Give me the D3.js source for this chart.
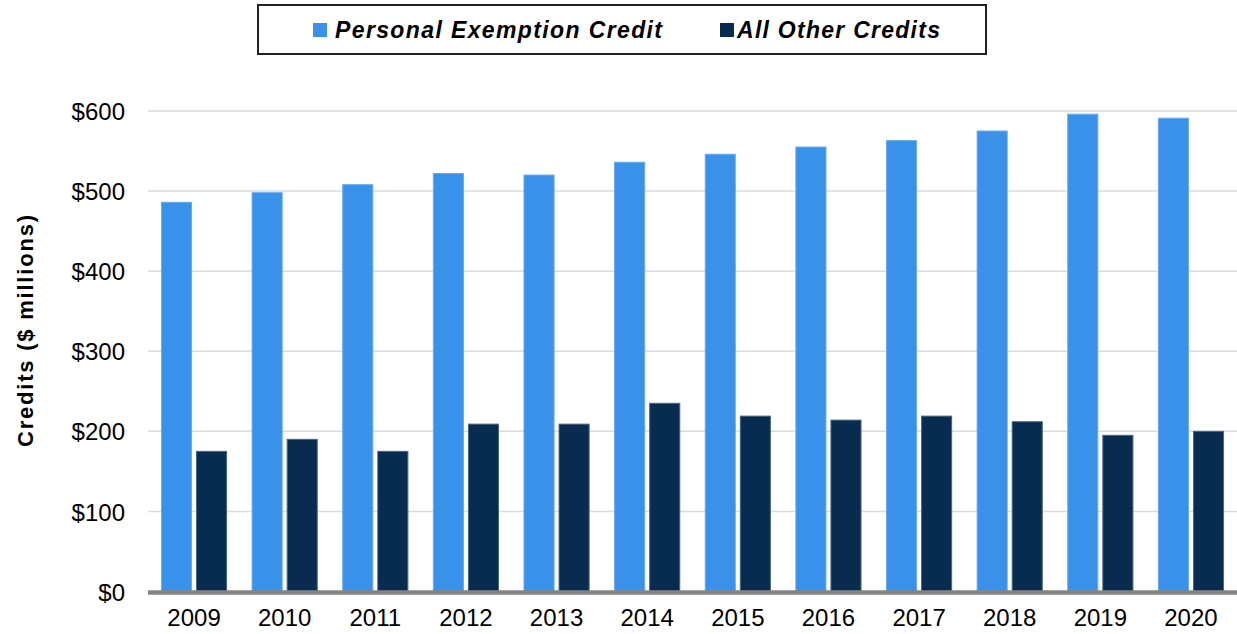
<!DOCTYPE html>
<html>
<head>
<meta charset="utf-8">
<script src="https://cdn.jsdelivr.net/npm/d3@7"></script>
<style>
    html, body { margin: 0; padding: 0; background: #fff; }
    svg { display: block; font-family: "Liberation Sans", Arial, sans-serif; }
</style>
</head>
<body>
<div id="chart"></div>
<script>
// Chart data
const years = ['2009', '2010', '2011', '2012', '2013', '2014', '2015', '2016', '2017', '2018', '2019', '2020'];
const personalExemption = [486, 498, 508, 522, 520, 536, 546, 555, 563, 575, 596, 591];
const allOther = [175, 190, 175, 209, 209, 235, 219, 214, 219, 212, 195, 200];
const seriesNames = ['Personal Exemption Credit', 'All Other Credits'];
const yTicks = [0, 100, 200, 300, 400, 500, 600];

const width = 1237, height = 634;
const margin = { left: 148, right: 0, top: 111, bottom: 42 };
const colors = ['#3991ea', '#082c50'];
const strokes = ['#68abef', '#4a6580'];

const svg = d3.select('#chart')
    .append('svg')
    .attr('width', width)
    .attr('height', height);

// Scales
const x0 = d3.scaleBand()
    .domain(years)
    .range([margin.left, width - margin.right])
    .paddingInner(0.27)
    .paddingOuter(0.143);

const x1 = d3.scaleBand()
    .domain(seriesNames)
    .range([0, x0.bandwidth()])
    .paddingInner(0.114);

const y = d3.scaleLinear()
    .domain([0, 600])
    .range([591.5, margin.top]);

// Gridlines
svg.append('g')
    .selectAll('line')
    .data(yTicks.filter(d => d > 0))
    .enter()
    .append('line')
    .attr('x1', margin.left)
    .attr('x2', width)
    .attr('y1', d => y(d))
    .attr('y2', d => y(d))
    .attr('stroke', '#dcdcdc')
    .attr('stroke-width', 1.5);

// Y axis labels
const yAxis = d3.axisLeft(y)
    .tickValues(yTicks)
    .tickFormat(d => `$${d}`)
    .tickSize(0)
    .tickPadding(0);

svg.append('g')
    .attr('transform', 'translate(125,0)')
    .call(yAxis)
    .call(g => g.select('.domain').remove())
    .selectAll('text')
    .attr('font-size', 24)
    .attr('font-family', '"Liberation Sans", Arial, sans-serif')
    .attr('fill', '#000')
    .attr('dy', '0.36em');

// Bars
const data = years.map((yr, i) => ({
    year: yr,
    values: [personalExemption[i], allOther[i]]
}));

const groups = svg.append('g')
    .selectAll('g')
    .data(data)
    .enter()
    .append('g')
    .attr('transform', d => `translate(${x0(d.year)},0)`);

groups.selectAll('rect')
    .data(d => d.values.map((v, i) => ({ key: seriesNames[i], value: v, i })))
    .enter()
    .append('rect')
    .attr('x', d => x1(d.key) + 0.5)
    .attr('y', d => y(d.value))
    .attr('width', x1.bandwidth() - 1)
    .attr('height', d => y(0) - y(d.value))
    .attr('fill', d => colors[d.i])
    .attr('stroke', d => strokes[d.i])
    .attr('stroke-width', 1);

// Zero axis line
svg.append('line')
    .attr('x1', margin.left)
    .attr('x2', width)
    .attr('y1', y(0) + 1)
    .attr('y2', y(0) + 1)
    .attr('stroke', '#858585')
    .attr('stroke-width', 4.5);

// X axis labels
const xAxis = d3.axisBottom(x0)
    .tickSize(0)
    .tickPadding(0);

svg.append('g')
    .attr('transform', 'translate(0,609)')
    .call(xAxis)
    .call(g => g.select('.domain').remove())
    .selectAll('text')
    .attr('font-size', 24)
    .attr('font-family', '"Liberation Sans", Arial, sans-serif')
    .attr('fill', '#000')
    .attr('dy', '0.71em');

// Y axis title
svg.append('text')
    .attr('transform', 'translate(33,331) rotate(-90)')
    .attr('text-anchor', 'middle')
    .attr('font-size', 22)
    .attr('font-weight', 'bold')
    .attr('textLength', 232)
    .attr('lengthAdjust', 'spacing')
    .text('Credits ($ millions)');

// Legend
const legend = svg.append('g');

legend.append('rect')
    .attr('x', 258)
    .attr('y', 5)
    .attr('width', 728)
    .attr('height', 49)
    .attr('fill', '#fff')
    .attr('stroke', '#222')
    .attr('stroke-width', 2);

const legendItems = [
    { name: seriesNames[0], sx: 313, tx: 335, len: 327 },
    { name: seriesNames[1], sx: 720, tx: 737, len: 203 }
];

legendItems.forEach((item, i) => {
    legend.append('rect')
        .attr('x', item.sx)
        .attr('y', 23)
        .attr('width', 14)
        .attr('height', 14)
        .attr('fill', colors[i]);

    legend.append('text')
        .attr('x', item.tx)
        .attr('y', 38)
        .attr('font-size', 23)
        .attr('font-weight', 'bold')
        .attr('font-style', 'italic')
        .attr('textLength', item.len)
        .attr('lengthAdjust', 'spacing')
        .text(item.name);
});
</script>
</body>
</html>
